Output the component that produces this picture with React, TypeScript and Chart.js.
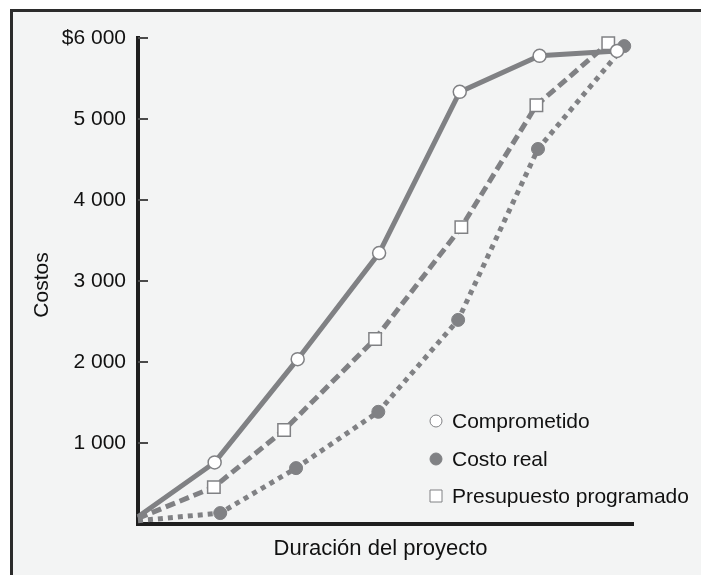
import { useEffect, useRef } from 'react';
import { Chart, registerables } from 'chart.js';

Chart.register(...registerables);

const seriesLabels = ['Comprometido', 'Costo real', 'Presupuesto programado'];

const xComprometido = [0, 0.96, 2.0, 3.02, 4.03, 5.03, 6.0];
const yComprometido = [90, 760, 2035, 3345, 5335, 5780, 5840];

const xCostoReal = [0, 1.03, 1.98, 3.01, 4.01, 5.01, 6.09];
const yCostoReal = [40, 135, 690, 1385, 2520, 4630, 5900];

const xPresupuesto = [0, 0.95, 1.83, 2.97, 4.05, 4.99, 5.89];
const yPresupuesto = [70, 455, 1160, 2285, 3665, 5170, 5935];

const yTickValues = [0, 1000, 2000, 3000, 4000, 5000, 6000];
const yTickLabels = ['', '1 000', '2 000', '3 000', '4 000', '5 000', '$6 000'];

const xAxisTitle = 'Duración del proyecto';
const yAxisTitle = 'Costos';

const GRAY = '#808184';
const FONT = "'Liberation Sans', Arial, Helvetica, sans-serif";
const TEXT = '#111111';

const pts = (xs: number[], ys: number[]) => xs.map((x, i) => ({ x, y: ys[i] }));
const radii = (n: number, r: number) => Array.from({ length: n }, (_, i) => (i === 0 ? 0 : r));

const frameBackground = {
  id: 'frameBackground',
  beforeDraw(chart: any) {
    const ctx = chart.ctx;
    const w = chart.width;
    const h = chart.height;
    ctx.save();
    ctx.fillStyle = '#ffffff';
    ctx.fillRect(0, 0, w, h);
    ctx.fillStyle = '#f3f4f4';
    ctx.fillRect(10, 9, w - 10, h - 9);
    ctx.fillStyle = '#2b2b2b';
    ctx.fillRect(10, 9, 3, h - 9);
    ctx.fillRect(10, 9, w - 10, 3);
    ctx.restore();
  },
};

const axisTitles = {
  id: 'axisTitles',
  afterDraw(chart: any) {
    const ctx = chart.ctx;
    const area = chart.chartArea;
    ctx.save();
    ctx.fillStyle = TEXT;
    ctx.textAlign = 'center';
    ctx.textBaseline = 'middle';
    ctx.font = `22px ${FONT}`;
    ctx.fillText(xAxisTitle, area.left + (area.right - area.left) * 0.49, area.bottom + 25);
    ctx.font = `21px ${FONT}`;
    ctx.translate(42, (area.top + area.bottom) / 2 + 4);
    ctx.rotate(-Math.PI / 2);
    ctx.fillText(yAxisTitle, 0, 0);
    ctx.restore();
  },
};

const insideTicks = {
  id: 'insideTicks',
  afterDraw(chart: any) {
    const y = chart.scales.y;
    const ctx = chart.ctx;
    ctx.save();
    ctx.strokeStyle = '#4a4a4a';
    ctx.lineWidth = 2;
    y.ticks.forEach((t: any) => {
      if (t.value === 0) return;
      const py = Math.round(y.getPixelForValue(t.value));
      ctx.beginPath();
      ctx.moveTo(y.right, py);
      ctx.lineTo(y.right + 10, py);
      ctx.stroke();
    });
    ctx.restore();
  },
};

const customLegend = {
  id: 'customLegend',
  afterDraw(chart: any) {
    const ctx = chart.ctx;
    const mx = 436;
    const tx = 452;
    const rows = [421, 459, 496];
    ctx.save();
    chart.data.datasets.forEach((ds: any, i: number) => {
      const cy = rows[i];
      ctx.lineWidth = 1;
      ctx.strokeStyle = GRAY;
      ctx.fillStyle = ds.pointBackgroundColor;
      ctx.beginPath();
      if (ds.pointStyle === 'rect') {
        ctx.rect(mx - 6, cy - 6, 12, 12);
      } else {
        ctx.arc(mx, cy, 6, 0, Math.PI * 2);
      }
      ctx.fill();
      ctx.stroke();
      ctx.fillStyle = TEXT;
      ctx.font = `21px ${FONT}`;
      ctx.textBaseline = 'middle';
      ctx.textAlign = 'left';
      ctx.fillText(ds.label, tx, cy + 1);
    });
    ctx.restore();
  },
};

export default function App() {
  const ref = useRef<HTMLCanvasElement>(null);

  useEffect(() => {
    document.body.style.margin = '0';
    document.body.style.overflow = 'hidden';
    document.documentElement.style.overflow = 'hidden';
    const chart = new Chart(ref.current!, {
      type: 'line',
      data: {
        datasets: [
          {
            label: seriesLabels[0],
            data: pts(xComprometido, yComprometido),
            borderColor: GRAY,
            borderWidth: 5,
            pointStyle: 'circle',
            pointRadius: radii(xComprometido.length, 6.5),
            pointBackgroundColor: '#ffffff',
            pointBorderColor: GRAY,
            pointBorderWidth: 1.5,
            clip: false,
          },
          {
            label: seriesLabels[1],
            data: pts(xCostoReal, yCostoReal),
            borderColor: GRAY,
            borderWidth: 5,
            borderDash: [5, 5],
            pointStyle: 'circle',
            pointRadius: radii(xCostoReal.length, 6.5),
            pointBackgroundColor: GRAY,
            pointBorderColor: GRAY,
            pointBorderWidth: 1,
            clip: false,
          },
          {
            label: seriesLabels[2],
            data: pts(xPresupuesto, yPresupuesto),
            borderColor: GRAY,
            borderWidth: 5,
            borderDash: [10, 5],
            pointStyle: 'rect',
            pointRadius: radii(xPresupuesto.length, 8.8),
            pointBackgroundColor: '#ffffff',
            pointBorderColor: GRAY,
            pointBorderWidth: 1.5,
            clip: false,
          },
        ],
      },
      options: {
        responsive: false,
        animation: false,
        devicePixelRatio: 1,
        layout: { padding: { top: 38, right: 68, left: 0, bottom: 0 } },
        plugins: { legend: { display: false }, tooltip: { enabled: false } },
        scales: {
          x: {
            type: 'linear',
            min: 0,
            max: 6.2,
            ticks: { display: false },
            grid: { display: false, drawTicks: false },
            border: { display: true, color: '#1e1e1e', width: 4 },
            title: { display: false, text: xAxisTitle },
            afterFit: (s: any) => {
              s.height = 51;
            },
          },
          y: {
            type: 'linear',
            min: 0,
            max: 6000,
            afterBuildTicks: (s: any) => {
              s.ticks = yTickValues.map((v) => ({ value: v }));
            },
            ticks: {
              padding: 12,
              color: TEXT,
              font: { size: 21, family: FONT },
              callback: (v: any) => yTickLabels[yTickValues.indexOf(Number(v))] ?? '',
            },
            grid: { display: false, drawTicks: false },
            border: { display: true, color: '#1e1e1e', width: 4 },
            title: { display: false, text: yAxisTitle },
            afterFit: (s: any) => {
              s.width = 138;
            },
          },
        },
      },
      plugins: [frameBackground, insideTicks, customLegend, axisTitles],
    });
    return () => chart.destroy();
  }, []);

  return (
    <div style={{ position: 'relative', width: 701, height: 575, overflow: 'hidden' }}>
      <canvas
        ref={ref}
        width={701}
        height={575}
        style={{ display: 'block', width: 701, height: 575 }}
      />
    </div>
  );
}
